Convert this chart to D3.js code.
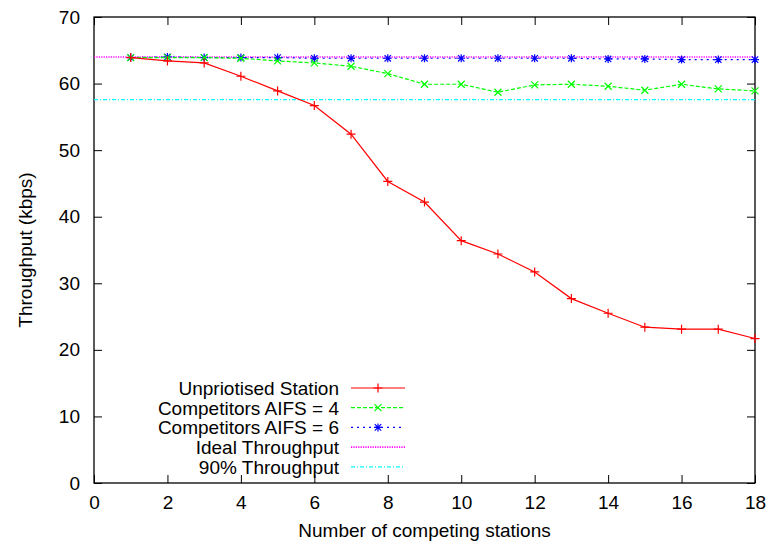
<!DOCTYPE html>
<html>
<head>
<meta charset="utf-8">
<script src="https://cdn.jsdelivr.net/npm/d3@7"></script>
<style>
  body { margin: 0; background: #fff; }
  svg text { font-family: "Liberation Sans", Arial, sans-serif; fill: #000; }
</style>
</head>
<body>
<div id="chart"></div>
<script>
// stations on the x axis
let stations = d3.range(1, 19);

// throughput values (kbps)
let unprioritised = [63.9, 63.4, 63.1, 61.1, 58.9, 56.7, 52.4, 45.3, 42.2, 36.4, 34.4, 31.7, 27.7, 25.5, 23.4, 23.1, 23.1, 21.7];
let aifs4 = [63.9, 63.9, 63.9, 63.8, 63.4, 63.1, 62.6, 61.5, 59.9, 59.9, 58.7, 59.8, 59.9, 59.6, 59.0, 59.9, 59.2, 58.9];
let aifs6 = [63.9, 64.0, 63.9, 63.9, 63.9, 63.8, 63.8, 63.8, 63.8, 63.8, 63.8, 63.8, 63.8, 63.7, 63.7, 63.6, 63.6, 63.6];
let ideal = 64;
let ninetyPct = 57.6;

let xTicks = d3.range(0, 19, 2);
let yTicks = d3.range(0, 71, 10);
let xLabel = "Number of competing stations";
let yLabel = "Throughput (kbps)";

let width = 774, height = 546;
let x = d3.scaleLinear().domain([0, 18]).range([94, 755]);
let y = d3.scaleLinear().domain([0, 70]).range([483, 17]);

let svg = d3.select("#chart").append("svg")
  .attr("width", width)
  .attr("height", height);

// axes: inward ticks, mirrored on top and right
let tick = 8;
let fontSize = "19px";

let gx = svg.append("g").attr("transform", `translate(0,${y(0)})`)
  .call(d3.axisBottom(x).tickValues(xTicks).tickSizeInner(-tick).tickSizeOuter(0).tickPadding(13));
let gy = svg.append("g").attr("transform", `translate(${x(0)},0)`)
  .call(d3.axisLeft(y).tickValues(yTicks).tickSizeInner(-tick).tickSizeOuter(0).tickPadding(14));
let gt = svg.append("g").attr("transform", `translate(0,${y(70)})`)
  .call(d3.axisTop(x).tickValues(xTicks).tickSizeInner(-tick).tickSizeOuter(0).tickFormat(""));
let gr = svg.append("g").attr("transform", `translate(${x(18)},0)`)
  .call(d3.axisRight(y).tickValues(yTicks).tickSizeInner(-tick).tickSizeOuter(0).tickFormat(""));

[gx, gy, gt, gr].forEach(g => {
  g.select(".domain").remove();
  g.selectAll("line").attr("stroke", "#000").attr("stroke-width", 1);
  g.selectAll("text").style("font-size", fontSize).attr("font-family", null);
});

svg.append("rect")
  .attr("x", x(0)).attr("y", y(70))
  .attr("width", x(18) - x(0)).attr("height", y(0) - y(70))
  .attr("fill", "none").attr("stroke", "#000").attr("stroke-width", 1.3);

svg.append("text")
  .attr("x", (x(0) + x(18)) / 2).attr("y", 537)
  .attr("text-anchor", "middle").style("font-size", fontSize)
  .text(xLabel);

svg.append("text")
  .attr("transform", `translate(32,${(y(0) + y(70)) / 2}) rotate(-90)`)
  .attr("text-anchor", "middle").style("font-size", fontSize)
  .text(yLabel);

// point markers
function plus(s) { return `M${-s},0H${s}M0,${-s}V${s}`; }
function cross(s) { return `M${-s},${-s}L${s},${s}M${-s},${s}L${s},${-s}`; }
function star(s) { return plus(s) + cross(s * 0.8); }

let series = [
  { name: "Unpriotised Station", values: unprioritised, color: "#ff0000", dash: null, marker: plus(4.5) },
  { name: "Competitors AIFS = 4", values: aifs4, color: "#00ff00", dash: "4,2", marker: cross(3.5) },
  { name: "Competitors AIFS = 6", values: aifs6, color: "#0000ff", dash: "2,4", marker: star(4) }
];
let refs = [
  { name: "Ideal Throughput", value: ideal, color: "#ff00ff", dash: "1.2,1.2", width: 1.6 },
  { name: "90% Throughput", value: ninetyPct, color: "#00ffff", dash: "4,2,1,2", width: 1.2 }
];

let line = d3.line().x((d, i) => x(stations[i])).y(d => y(d));

refs.forEach(r => {
  svg.append("line")
    .attr("x1", x(0)).attr("x2", x(18))
    .attr("y1", y(r.value)).attr("y2", y(r.value))
    .attr("stroke", r.color).attr("stroke-width", r.width)
    .attr("stroke-dasharray", r.dash);
});

// draw in reverse so the red curve sits on top
series.slice().reverse().forEach(s => {
  svg.append("path")
    .datum(s.values)
    .attr("d", line)
    .attr("fill", "none")
    .attr("stroke", s.color)
    .attr("stroke-width", 1.2)
    .attr("stroke-dasharray", s.dash);

  svg.selectAll(null)
    .data(s.values)
    .enter()
    .append("path")
    .attr("transform", (d, i) => `translate(${x(stations[i])},${y(d)})`)
    .attr("d", s.marker)
    .attr("fill", "none")
    .attr("stroke", s.color)
    .attr("stroke-width", 1.2);
});

// legend
let legend = series.map(s => ({ name: s.name, color: s.color, dash: s.dash, marker: s.marker, width: 1.2 }))
  .concat(refs.map(r => ({ name: r.name, color: r.color, dash: r.dash, marker: null, width: r.width })));

let lg = svg.append("g");
legend.forEach((d, i) => {
  let cy = 388 + i * 19.7;
  lg.append("text")
    .attr("x", 339).attr("y", cy)
    .attr("dy", "0.36em")
    .attr("text-anchor", "end")
    .style("font-size", fontSize)
    .text(d.name);
  lg.append("line")
    .attr("x1", 351).attr("x2", 405)
    .attr("y1", cy).attr("y2", cy)
    .attr("stroke", d.color).attr("stroke-width", d.width)
    .attr("stroke-dasharray", d.dash);
  if (d.marker) {
    lg.append("path")
      .attr("transform", `translate(378,${cy})`)
      .attr("d", d.marker)
      .attr("fill", "none")
      .attr("stroke", d.color)
      .attr("stroke-width", 1.2);
  }
});
</script>
</body>
</html>
